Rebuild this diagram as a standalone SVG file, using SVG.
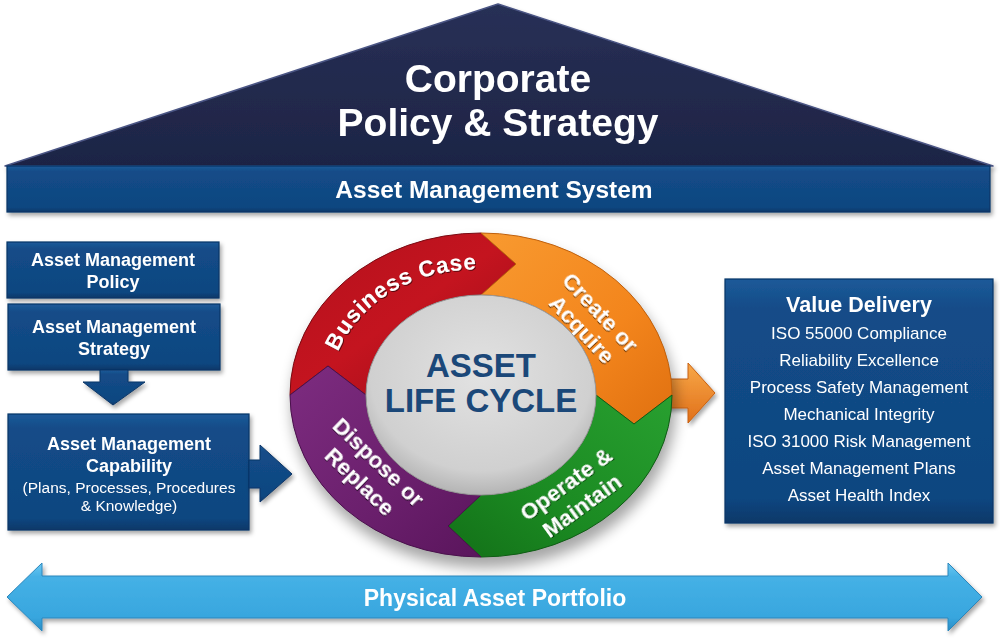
<svg xmlns="http://www.w3.org/2000/svg" width="1000" height="641" viewBox="0 0 1000 641">
<style>
text{font-family:"Liberation Sans",Arial,sans-serif;text-anchor:middle}
.wb{font-weight:bold;fill:#fff}
.wr{fill:#fff}
.seg{font-weight:bold;fill:#fff;font-size:22.5px}
.box{fill:url(#gBox);stroke:#0a3566;stroke-width:1.2}
</style>
<defs>
<linearGradient id="gBox" x1="0" y1="0" x2="0" y2="1">
<stop offset="0" stop-color="#1d5a99"/><stop offset="0.12" stop-color="#134c88"/><stop offset="0.9" stop-color="#0f4680"/><stop offset="1" stop-color="#0a3868"/>
</linearGradient>
<linearGradient id="gRoof" x1="0" y1="0" x2="0" y2="1">
<stop offset="0" stop-color="#283056"/><stop offset="1" stop-color="#1d2445"/>
</linearGradient>
<linearGradient id="gSky" x1="0" y1="0" x2="0" y2="1">
<stop offset="0" stop-color="#6cc8f2"/><stop offset="0.2" stop-color="#45b1e6"/><stop offset="0.8" stop-color="#38a6de"/><stop offset="1" stop-color="#2a8cc4"/>
</linearGradient>
<linearGradient id="gRed" x1="0" y1="0" x2="1" y2="1">
<stop offset="0" stop-color="#b3101c"/><stop offset="0.5" stop-color="#c4141f"/><stop offset="1" stop-color="#9a0c18"/>
</linearGradient>
<linearGradient id="gOrange" x1="0" y1="0" x2="1" y2="1">
<stop offset="0" stop-color="#f89a30"/><stop offset="0.6" stop-color="#f3851c"/><stop offset="1" stop-color="#e07010"/>
</linearGradient>
<linearGradient id="gGreen" x1="1" y1="0" x2="0" y2="1">
<stop offset="0" stop-color="#28a030"/><stop offset="0.6" stop-color="#1b8a22"/><stop offset="1" stop-color="#137018"/>
</linearGradient>
<linearGradient id="gPurple" x1="0" y1="0" x2="1" y2="1">
<stop offset="0" stop-color="#7d2c80"/><stop offset="0.6" stop-color="#6a1f6c"/><stop offset="1" stop-color="#5a155c"/>
</linearGradient>
<radialGradient id="gGray" cx="0.5" cy="0.4" r="0.6">
<stop offset="0" stop-color="#e2e2e2"/><stop offset="0.8" stop-color="#d0d0d0"/><stop offset="1" stop-color="#b4b4b4"/>
</radialGradient>
<linearGradient id="gOut" x1="0" y1="0" x2="0" y2="1">
<stop offset="0" stop-color="#f8a848"/><stop offset="1" stop-color="#e0701a"/>
</linearGradient>
<filter id="sh" x="-10%" y="-10%" width="120%" height="130%">
<feDropShadow dx="2" dy="3" stdDeviation="2" flood-color="#000" flood-opacity="0.35"/>
</filter>
<filter id="ts" x="-10%" y="-20%" width="120%" height="140%">
<feDropShadow dx="1" dy="1" stdDeviation="0.7" flood-color="#000" flood-opacity="0.55"/>
</filter>
<filter id="blur" x="-20%" y="-20%" width="140%" height="140%">
<feGaussianBlur stdDeviation="7"/>
</filter>
<path id="bcPath" d="M 330 384 A 146 124 0 0 1 510 273"/>
</defs>

<rect width="1000" height="641" fill="#fff"/>

<g id="roof" filter="url(#sh)">
<path d="M 5 166 L 498 4 L 993 166 Z" fill="url(#gRoof)" stroke="#4a5484" stroke-width="1.5" stroke-linejoin="round"/>
<text class="wb" x="498" y="92" font-size="39">Corporate</text>
<text class="wb" x="498" y="136" font-size="39">Policy &amp; Strategy</text>
</g>

<g id="asset-management-system" filter="url(#sh)">
<rect class="box" x="7" y="166" width="983" height="46"/>
<text class="wb" x="494" y="198" font-size="24.5">Asset Management System</text>
</g>

<g id="policy" filter="url(#sh)">
<rect class="box" x="7" y="242" width="212" height="56"/>
<text class="wb" x="113" y="266" font-size="18">Asset Management</text>
<text class="wb" x="113" y="288" font-size="18">Policy</text>
</g>

<g id="strategy" filter="url(#sh)">
<rect class="box" x="8" y="304" width="212" height="66"/>
<text class="wb" x="114" y="333" font-size="18">Asset Management</text>
<text class="wb" x="114" y="355" font-size="18">Strategy</text>
</g>

<g id="capability" filter="url(#sh)">
<rect class="box" x="8" y="414" width="241" height="116"/>
<text class="wb" x="129" y="450" font-size="18">Asset Management</text>
<text class="wb" x="129" y="472" font-size="18">Capability</text>
<text class="wr" x="129" y="493" font-size="15.5">(Plans, Processes, Procedures</text>
<text class="wr" x="129" y="511" font-size="15.5">&amp; Knowledge)</text>
</g>

<g id="value-delivery" filter="url(#sh)">
<rect class="box" x="725" y="279" width="268" height="244"/>
<text class="wb" x="859" y="312" font-size="21.5">Value Delivery</text>
<text class="wr" x="859" y="339" font-size="17">ISO 55000 Compliance</text>
<text class="wr" x="859" y="366" font-size="17">Reliability Excellence</text>
<text class="wr" x="859" y="393" font-size="17">Process Safety Management</text>
<text class="wr" x="859" y="420" font-size="17">Mechanical Integrity</text>
<text class="wr" x="859" y="447" font-size="17">ISO 31000 Risk Management</text>
<text class="wr" x="859" y="474" font-size="17">Asset Management Plans</text>
<text class="wr" x="859" y="501" font-size="17">Asset Health Index</text>
</g>

<g id="connectors">
<path id="arrow-strategy-capability" d="M 100 370 L 128 370 L 128 382 L 145 382 L 113 405 L 83 382 L 100 382 Z" fill="url(#gBox)" stroke="#0a3566" stroke-width="1" filter="url(#sh)"/>
<path id="arrow-capability-cycle" d="M 249 460 L 260 460 L 260 445 L 292 474 L 260 502 L 260 488 L 249 488 Z" fill="url(#gBox)" stroke="#0a3566" stroke-width="1" filter="url(#sh)"/>
<path id="arrow-cycle-value" d="M 665 379 L 688 379 L 688 363 L 715 393 L 688 423 L 688 408 L 665 408 Z" fill="url(#gOut)" stroke="#c86010" stroke-width="1" filter="url(#sh)"/>
</g>

<g id="asset-life-cycle">
<ellipse cx="484" cy="405" rx="192" ry="163" fill="#000" opacity="0.35" filter="url(#blur)"/>
<g id="seg-business-case">
<path d="M 290 395 A 191 162 0 0 1 481 233 L 516 264 L 481 295 A 115 100 0 0 0 366 395 L 328 366 Z" fill="url(#gRed)" stroke="#7a0a12" stroke-width="1"/>
<text class="seg" filter="url(#ts)" letter-spacing="0.8"><textPath href="#bcPath" startOffset="50%">Business Case</textPath></text>
</g>
<g id="seg-create-acquire">
<path d="M 481 233 A 191 162 0 0 1 672 395 L 634 424 L 596 395 A 115 100 0 0 0 481 295 L 516 264 Z" fill="url(#gOrange)" stroke="#c0600c" stroke-width="1"/>
<g transform="translate(591 321) rotate(47)" filter="url(#ts)">
<text class="seg" x="0" y="-5">Create or</text>
<text class="seg" x="0" y="20">Acquire</text>
</g>
</g>
<g id="seg-operate-maintain">
<path d="M 672 395 A 191 162 0 0 1 481 557 L 448 526 L 481 495 A 115 100 0 0 0 596 395 L 634 424 Z" fill="url(#gGreen)" stroke="#0f5c14" stroke-width="1"/>
<g transform="translate(574 495) rotate(-36)" filter="url(#ts)">
<text class="seg" x="0" y="-6">Operate &amp;</text>
<text class="seg" x="0" y="21">Maintain</text>
</g>
</g>
<g id="seg-dispose-replace">
<path d="M 481 557 A 191 162 0 0 1 290 395 L 328 366 L 366 395 A 115 100 0 0 0 481 495 L 448 526 Z" fill="url(#gPurple)" stroke="#4a104c" stroke-width="1"/>
<g transform="translate(369 472) rotate(44)" filter="url(#ts)">
<text class="seg" x="0" y="-6">Dispose or</text>
<text class="seg" x="0" y="21">Replace</text>
</g>
</g>
<g id="life-cycle-center">
<ellipse cx="481" cy="395" rx="115" ry="100" fill="url(#gGray)" stroke="#9a9a9a" stroke-width="1"/>
<text x="481" y="377" font-size="33" font-weight="bold" fill="#1b4879">ASSET</text>
<text x="481" y="412" font-size="33" font-weight="bold" fill="#1b4879">LIFE CYCLE</text>
</g>
</g>

<g id="physical-asset-portfolio" filter="url(#sh)">
<path d="M 7 597 L 42 563 L 42 576 L 948 576 L 948 563 L 982 597 L 948 631 L 948 618 L 42 618 L 42 631 Z" fill="url(#gSky)" stroke="#2a86bc" stroke-width="1"/>
<text class="wb" x="495" y="606" font-size="23">Physical Asset Portfolio</text>
</g>
</svg>
